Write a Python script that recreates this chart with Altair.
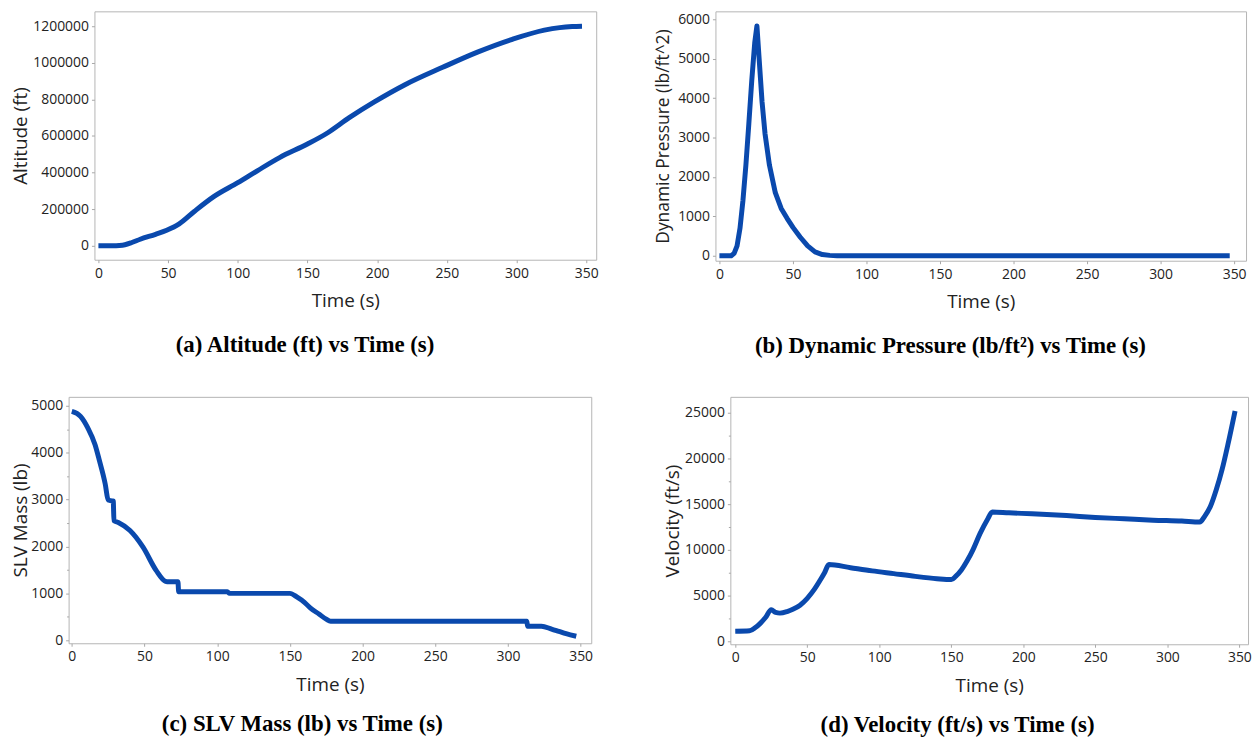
import altair as alt
import pandas as pd

# ---------------- data ----------------
time_ticks = [0, 50, 100, 150, 200, 250, 300, 350]

alt_time = [0, 10, 15, 19, 24, 30, 41, 49, 58, 69, 83, 100, 114, 130, 150, 164,
            180, 198, 220, 247, 272, 297, 320, 331, 340, 347]
alt_ft = [0, 500, 2000, 6000, 18000, 36000, 63000, 85000, 120000, 189000, 270000,
          345000, 410000, 482000, 556000, 615000, 700000, 786000, 880000, 975000,
          1058000, 1128000, 1178000, 1192000, 1198000, 1200000]
alt_ticks = [0, 200000, 400000, 600000, 800000, 1000000, 1200000]

q_time = [0, 8, 10, 12, 14, 16, 18, 20, 22, 24, 25.5, 27, 29, 31, 34, 38, 42, 46,
          50, 55, 60, 65, 70, 75, 80, 100, 347]
q_psf = [0, 0, 60, 250, 700, 1400, 2300, 3350, 4450, 5400, 5831, 5000, 3900, 3100,
         2300, 1600, 1200, 950, 720, 470, 250, 100, 30, 10, 3, 0, 0]
q_ticks = [0, 1000, 2000, 3000, 4000, 5000, 6000]

m_time = [0, 6, 11, 16, 19, 23, 25, 28, 28.5, 29, 32, 40, 49, 58, 64.5, 65.5, 73,
          73.5, 107, 108.5, 150, 155, 160, 164, 170, 175, 178, 313, 313.5, 323,
          330, 335, 340, 347]
m_lb = [4880, 4775, 4530, 4170, 3830, 3330, 2990, 2970, 2970, 2550, 2510, 2340,
        1985, 1490, 1255, 1250, 1250, 1035, 1035, 1000, 1000, 920, 810, 690, 560,
        450, 405, 405, 300, 300, 240, 190, 140, 85]
m_ticks = [0, 500, 1000, 1500, 2000, 2500, 3000, 3500, 4000, 4500, 5000]

v_time = [0, 10, 14, 17, 21, 25, 28, 31, 36, 40, 45, 50, 55, 59, 62, 65, 80, 95,
          110, 125, 140, 150, 153, 157, 161, 165, 170, 175, 178.5, 190, 206, 230,
          250, 270, 290, 310, 322.5, 326, 330, 334, 338, 342, 347]
v_fps = [1100, 1150, 1500, 1900, 2600, 3450, 3150, 3080, 3250, 3500, 3950, 4700,
         5700, 6700, 7500, 8400, 8050, 7700, 7400, 7100, 6850, 6750, 7100, 7800,
         8800, 10000, 11800, 13300, 14150, 14050, 13950, 13750, 13550, 13400,
         13250, 13150, 13050, 13700, 14800, 16600, 18800, 21500, 25200]
v_ticks = [0, 2500, 5000, 7500, 10000, 12500, 15000, 17500, 20000, 22500, 25000]

LINE = "#0a49ad"
SANS = "Open Sans"


def panel(ts, vs, ytitle, xdom, ydom, yticks, w, h, caption, ext, tpad, interp,
          cap_offset, major=None, title_size=19):
    df = pd.DataFrame({"t": ts, "v": vs})
    yaxis_kw = dict(values=yticks, title=ytitle, format="d", minExtent=ext,
                    maxExtent=ext, titlePadding=tpad, titleFontSize=title_size)
    if major:
        minor_test = f"datum.value % {major} !== 0"
        yaxis_kw["labelExpr"] = f"{minor_test} ? '' : datum.label"
        yaxis_kw["tickSize"] = {"condition": {"test": minor_test, "value": 2}, "value": 3}
    return (
        alt.Chart(df)
        .mark_line(color=LINE, strokeWidth=5, strokeJoin="round", strokeCap="butt",
                   interpolate=interp)
        .encode(
            x=alt.X("t:Q",
                    scale=alt.Scale(domain=xdom, nice=False, zero=False),
                    axis=alt.Axis(values=time_ticks, title="Time (s)", format="d")),
            y=alt.Y("v:Q",
                    scale=alt.Scale(domain=ydom, nice=False, zero=False),
                    axis=alt.Axis(**yaxis_kw)),
        )
        .properties(width=w, height=h,
                    title=alt.TitleParams(caption, orient="bottom", anchor="middle",
                                          frame="bounds", offset=cap_offset))
    )


def spacer():
    # invisible 1-px cell with no extent: lets both rows start at the same outer edge
    return (
        alt.Chart(pd.DataFrame({"k": [0]}))
        .mark_point(opacity=0, size=0, strokeWidth=0)
        .encode(x=alt.value(0.5), y=alt.value(0.5))
        .properties(width=1, height=1, view=alt.ViewBackground(strokeOpacity=0))
    )


a = panel(alt_time, alt_ft, "Altitude (ft)", [-2.85, 357.2], [-76000, 1281000],
          alt_ticks, 505, 250, "(a) Altitude (ft) vs Time (s)", 63, 1, "monotone", 23)
b = panel(q_time, q_psf, "Dynamic Pressure (lb/ft^2)", [-2.7, 358.1], [-126, 6201],
          q_ticks, 534, 251, "(b) Dynamic Pressure (lb/ft²) vs Time (s)", 38, 5, "linear",
          23, title_size=17.5)
c = panel(m_time, m_lb, "SLV Mass (lb)", [-2.2, 357.3], [-64, 5191],
          m_ticks, 526, 248, "(c) SLV Mass (lb) vs Time (s)", 38, 0, "monotone", 19,
          major=1000)
d = panel(v_time, v_fps, "Velocity (ft/s)", [-3.4, 356], [-326, 26739],
          v_ticks, 521, 249, "(d) Velocity (ft/s) vs Time (s)", 46, 2, "monotone", 19,
          major=5000)

row1 = alt.hconcat(spacer(), alt.hconcat(a, b, spacing=55), spacing=0)
row2 = alt.hconcat(spacer(), alt.hconcat(c, d, spacing=70), spacing=0)

chart = (
    alt.vconcat(row1, row2, spacing=38)
    .properties(padding={"left": 2, "top": 0, "right": 0, "bottom": 0})
    .configure_view(stroke="#b4b4b4", strokeWidth=1)
    .configure_axis(
        domain=False, grid=False,
        ticks=True, tickColor="#a8a8a8", tickSize=3,
        labelFont=SANS, labelFontSize=14, labelColor="#222222", labelPadding=3,
        labelFlush=False, labelOverlap=False,
        titleFont=SANS, titleFontSize=19, titleFontWeight="normal", titleColor="#222222",
    )
    .configure_axisX(labelPadding=3.5, titlePadding=12)
    .configure_title(font="Liberation Serif", fontSize=23, fontWeight="bold", color="#000000")
)

chart.save("out.html", embed_options={"renderer": "svg", "actions": False})
